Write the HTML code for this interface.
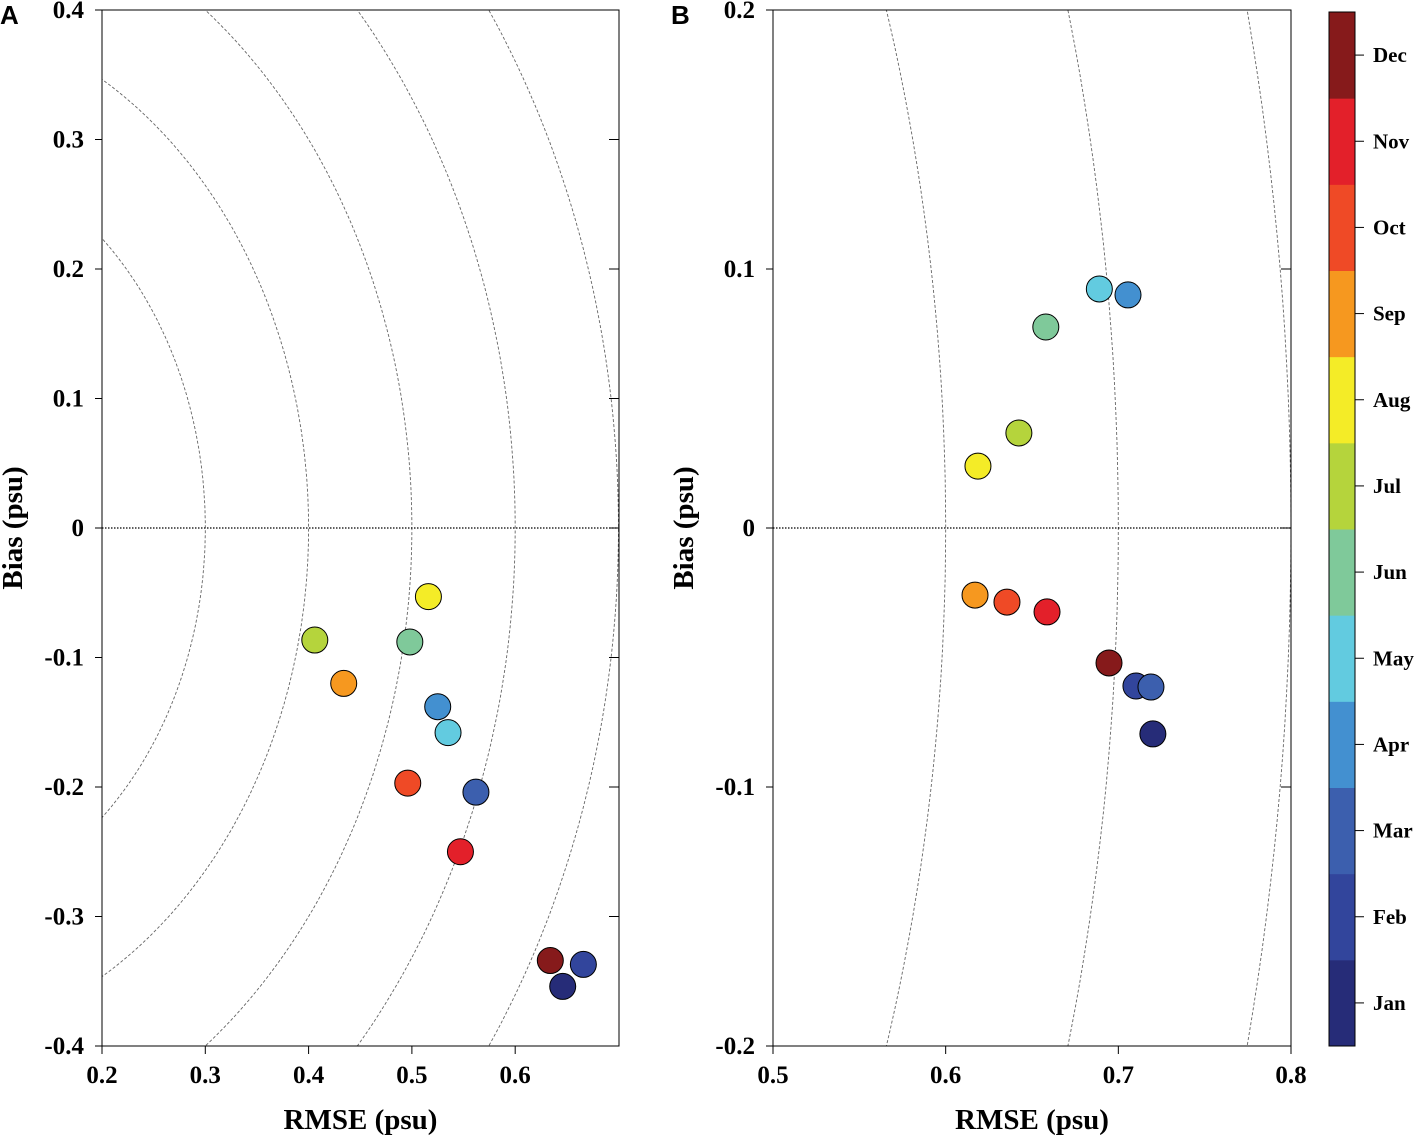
<!DOCTYPE html>
<html><head><meta charset="utf-8"><style>
html,body{margin:0;padding:0;background:#fff;width:1417px;height:1138px;overflow:hidden;}
svg{display:block;font-family:"Liberation Serif",serif;font-weight:bold;}
</style></head><body>
<svg id="chart" width="1417" height="1138" viewBox="0 0 1417 1138" xmlns="http://www.w3.org/2000/svg"></svg>
<script>
const months=["Jan","Feb","Mar","Apr","May","Jun","Jul","Aug","Sep","Oct","Nov","Dec"];
const monthColors=["#262c78","#32459c","#3c5fae","#4390d0","#62cbe0","#7fc99a","#b5d43c","#f4ec27","#f6981f","#ef4a26","#e3202a","#861a1b"];
const rmseA=[0.646,0.666,0.562,0.525,0.535,0.498,0.406,0.516,0.434,0.496,0.547,0.634];
const biasA=[-0.354,-0.337,-0.204,-0.138,-0.158,-0.088,-0.0865,-0.053,-0.120,-0.197,-0.250,-0.334];
const rmseB=[0.720,0.7102,0.7189,0.7056,0.689,0.658,0.6424,0.6187,0.617,0.6355,0.6587,0.6946];
const biasB=[-0.0795,-0.061,-0.0614,0.090,0.0923,0.0776,0.0367,0.0239,-0.0259,-0.0286,-0.0324,-0.0521];
const xTicksA=[0.2,0.3,0.4,0.5,0.6];
const yTicksA=[0.4,0.3,0.2,0.1,0,-0.1,-0.2,-0.3,-0.4];
const xTicksB=[0.5,0.6,0.7,0.8];
const yTicksB=[0.2,0.1,0,-0.1,-0.2];
const radiiA=[0.3,0.4,0.5,0.6,0.7];
const radiiB=[0.6,0.7,0.8];

const NS="http://www.w3.org/2000/svg";
const svg=document.getElementById('chart');
function mk(tag,attrs,parent){const e=document.createElementNS(NS,tag);for(const k in attrs)e.setAttribute(k,attrs[k]);(parent||svg).appendChild(e);return e;}
function fmt(v){if(v===0)return "0";let s=String(Math.round(v*10)/10);return s.replace("0.",".").replace(/^(-?)\./,"$10.");}

function panel(cfg){
  const g=mk('g',{});
  
  
  const sx=v=>cfg.x0+(v-cfg.xmin)/(cfg.xmax-cfg.xmin)*(cfg.x1-cfg.x0);
  const sy=v=>cfg.y1-(v-cfg.ymin)/(cfg.ymax-cfg.ymin)*(cfg.y1-cfg.y0);
  const clipId='clip'+cfg.label;
  const cp=mk('clipPath',{id:clipId},g);
  mk('rect',{x:cfg.x0,y:cfg.y0,width:cfg.x1-cfg.x0,height:cfg.y1-cfg.y0},cp);
  cfg.radii.forEach(r=>{
    let d="";
    for(let i=0;i<=200;i++){const a=-Math.PI/2+Math.PI*i/200;const X=r*Math.cos(a),Y=r*Math.sin(a);d+=(i?"L":"M")+sx(X).toFixed(1)+" "+sy(Y).toFixed(1);}
    const p=mk('path',{d:d,fill:'none',stroke:'#666','stroke-width':0.9,'stroke-dasharray':'3,2','clip-path':'url(#'+clipId+')'},g);
    
    
  });
  const z=mk('line',{x1:cfg.x0,x2:cfg.x1,y1:sy(0),y2:sy(0),stroke:'#000','stroke-width':1.2,'stroke-dasharray':'1.5,1.5'},g);
  
  
  const fr=mk('rect',{x:cfg.x0,y:cfg.y0,width:cfg.x1-cfg.x0,height:cfg.y1-cfg.y0,fill:'none',stroke:'#000','stroke-width':1},g);
  
  
  cfg.xt.forEach(v=>{
    const X=sx(v);
    mk('line',{x1:X,x2:X,y1:cfg.y1,y2:cfg.y1+8,stroke:'#000'},g);
    const t=mk('text',{x:X,y:cfg.y1+37,'text-anchor':'middle','font-size':25},g);
    t.textContent=fmt(v);
    
    
  });
  cfg.yt.forEach(v=>{
    const Y=sy(v);
    mk('line',{x1:cfg.x0-7,x2:cfg.x0,y1:Y,y2:Y,stroke:'#000'},g);
    mk('line',{x1:cfg.x1-10,x2:cfg.x1,y1:Y,y2:Y,stroke:'#000'},g);
    const t=mk('text',{x:cfg.x0-18,y:Y+8,'text-anchor':'end','font-size':25},g);
    t.textContent=fmt(v);
    
    
  });
  const xt=mk('text',{x:(cfg.x0+cfg.x1)/2,y:1129,'text-anchor':'middle','font-size':29},g);
  xt.textContent="RMSE (psu)";
  
  
  const yx=cfg.x0-80;
  const yt=mk('text',{x:yx,y:sy(0),'text-anchor':'middle','font-size':29,transform:'rotate(-90 '+yx+' '+sy(0)+')'},g);
  yt.textContent="Bias (psu)";
  
  
  const lb=mk('text',{x:cfg.x0-102,y:24,'font-size':26,'font-family':'Liberation Sans, sans-serif'},g);
  lb.textContent=cfg.label;
  
  
  cfg.rm.forEach((r,i)=>{
    const c=mk('circle',{cx:sx(r),cy:sy(cfg.bi[i]),r:13,fill:monthColors[i],stroke:'#000','stroke-width':1},g);
    
    
  });
}
panel({name:'panel-a',label:'A',x0:102,x1:619,y0:10,y1:1046,xmin:0.2,xmax:0.7005,ymin:-0.4,ymax:0.4,xt:xTicksA,yt:yTicksA,radii:radiiA,rm:rmseA,bi:biasA});
panel({name:'panel-b',label:'B',x0:773,x1:1291,y0:10,y1:1046,xmin:0.5,xmax:0.8,ymin:-0.2,ymax:0.2,xt:xTicksB,yt:yTicksB,radii:radiiB,rm:rmseB,bi:biasB});

const cb=mk('g',{});


const cbTop=12,cbBot=1046,seg=(cbBot-cbTop)/months.length;
months.forEach((m,i)=>{
  const y=cbBot-(i+1)*seg;
  const r=mk('rect',{x:1329,y:y,width:26,height:seg+0.5,fill:monthColors[i]},cb);
  
  
  mk('line',{x1:1355,x2:1364,y1:y+seg/2,y2:y+seg/2,stroke:'#000'},cb);
  const t=mk('text',{x:1373,y:y+seg/2+7,'font-size':21},cb);
  t.textContent=m;
  
  
});
mk('rect',{x:1329,y:cbTop,width:26,height:cbBot-cbTop,fill:'none',stroke:'#000','stroke-width':1},cb);
</script>
</body></html>
